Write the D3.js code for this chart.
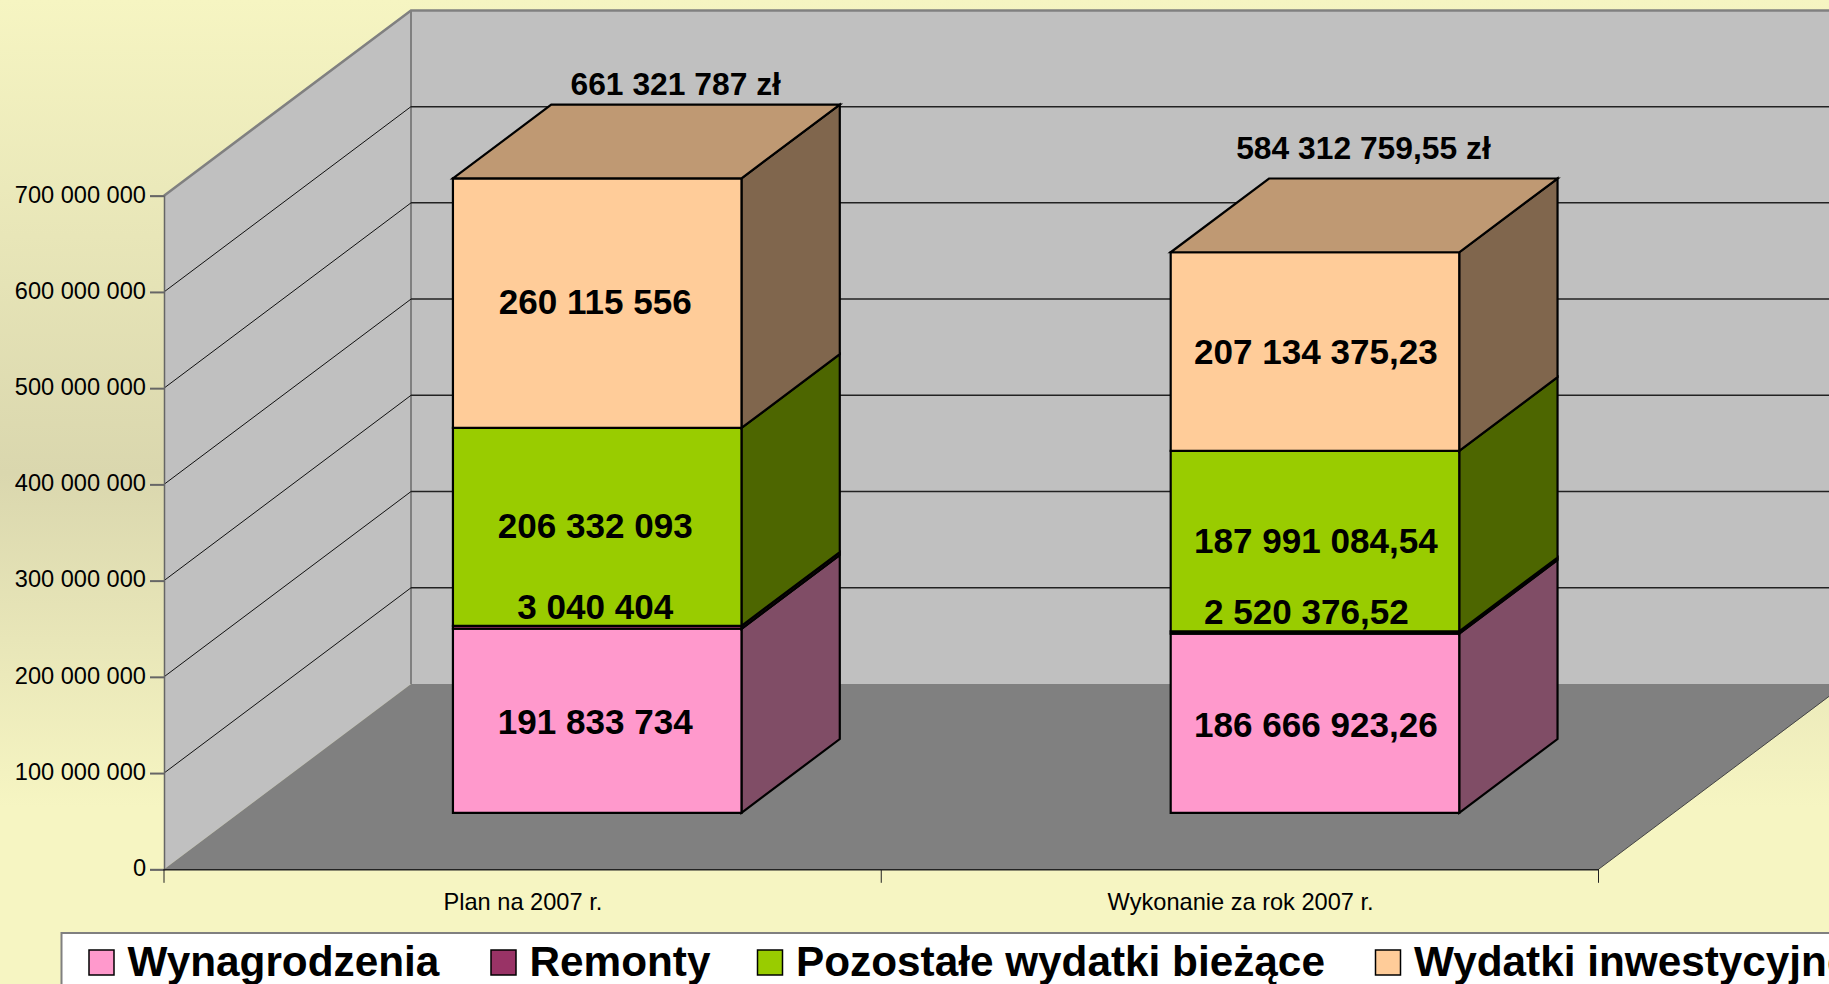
<!DOCTYPE html>
<html>
    <head>
        <meta charset="utf-8">
        <title>Wydatki 2007</title>
        <script src="https://d3js.org/d3.v7.min.js"></script>
        <style>
            html, body {
                margin: 0;
                padding: 0;
                overflow: hidden;
            }
            svg {
                display: block;
                font-family: "Liberation Sans", Arial, sans-serif;
            }
            .axis text {
                fill: #000;
            }
        </style>
    </head>
    <body>
        <svg id="chart" width="1829" height="984"></svg>
        <script>
            const categories = ['Plan na 2007 r.', 'Wykonanie za rok 2007 r.'];
            const seriesNames = ['Wynagrodzenia', 'Remonty', 'Pozostałe wydatki bieżące', 'Wydatki inwestycyjne'];
            const wynagrodzenia = [191833734, 186666923.26];
            const remonty = [3040404, 2520376.52];
            const pozostale = [206332093, 187991084.54];
            const inwestycyjne = [260115556, 207134375.23];
            const totals = [661321787, 584312759.55];
            const yTicks = [0, 100000000, 200000000, 300000000, 400000000, 500000000, 600000000, 700000000];

            const frontColors = ['#FF99CC', '#993366', '#99CC00', '#FFCC99'];
            const sideColors = ['#804D66', '#4D1A33', '#4D6600', '#80664D'];
            const topColor = '#BF9973';

            // projection of the 3D box: depth 0 is the front edge, 1 the back wall
            const depthX = 247;
            const depthY = 185.3;
            const barFront = 0.305;
            const barBack = 0.703;
            const pt = (x, y, d) => [x + d * depthX, y - d * depthY];
            const poly = pts => 'M' + pts.map(p => p.join(',')).join('L') + 'Z';

            const left = 164;
            const right = 1598.5;
            const floorY = 869.3;

            const svg = d3.select('#chart');

            const locale = d3.formatLocale({decimal: ',', thousands: ' ', grouping: [3], currency: ['', '']});
            const fmtInt = locale.format(',d');
            const fmtDec = locale.format(',.2f');
            const fmt = v => Number.isInteger(v) ? fmtInt(v) : fmtDec(v);

            const x = d3.scaleBand()
                .domain(categories)
                .range([left - 1, right])
                .paddingInner(0.598)
                .paddingOuter(0.299);
            const y = d3.scaleLinear().domain([0, 700000000]).range([floorY, 195.7]);
            // bars come out a little shorter than the axis in the original
            const yBar = d3.scaleLinear().domain([0, 700000000]).range([floorY, 197.8]);

            // background
            const grad = svg.append('defs').append('linearGradient')
                .attr('id', 'bg')
                .attr('x1', 0).attr('y1', 0).attr('x2', 0).attr('y2', 1);
            grad.append('stop').attr('offset', '0%').attr('stop-color', '#F6F5C2');
            grad.append('stop').attr('offset', '48%').attr('stop-color', '#DAD7AE');
            grad.append('stop').attr('offset', '82%').attr('stop-color', '#F6F5C2');
            grad.append('stop').attr('offset', '100%').attr('stop-color', '#F6F5C2');
            svg.append('rect').attr('width', 1829).attr('height', 984).attr('fill', 'url(#bg)');

            // walls and floor
            const wallTop = y(700000000);
            const walls = svg.append('g');
            walls.append('path')
                .attr('d', poly([pt(left, floorY, 1), pt(left, wallTop, 1), pt(right, wallTop, 1), pt(right, floorY, 1)]))
                .attr('fill', '#C0C0C0');
            walls.append('path')
                .attr('d', poly([[left, floorY], [left, wallTop], pt(left, wallTop, 1), pt(left, floorY, 1)]))
                .attr('fill', '#C0C0C0');
            walls.append('path')
                .attr('d', poly([[left, floorY], [right, floorY], pt(right, floorY, 1), pt(left, floorY, 1)]))
                .attr('fill', '#808080');

            // gridlines
            const grid = svg.append('g');
            grid.selectAll('path.side')
                .data(yTicks.slice(1, -1))
                .join('path')
                .attr('class', 'side')
                .attr('d', d => d3.line()([[left, y(d)], pt(left, y(d), 1)]))
                .attr('fill', 'none')
                .attr('stroke', '#111')
                .attr('stroke-width', 1);
            grid.selectAll('path.back')
                .data(yTicks.slice(1, -1))
                .join('path')
                .attr('class', 'back')
                .attr('d', d => d3.line()([pt(left, y(d), 1), pt(right, y(d), 1)]))
                .attr('fill', 'none')
                .attr('stroke', '#222')
                .attr('stroke-width', 1.5);

            // wall edges
            const edges = d3.line()([[left, wallTop], pt(left, wallTop, 1), pt(right, wallTop, 1)]);
            walls.append('path').attr('d', edges).attr('fill', 'none').attr('stroke', '#808080').attr('stroke-width', 2.5);
            walls.append('path')
                .attr('d', d3.line()([pt(left, wallTop, 1), pt(left, floorY, 1)]))
                .attr('fill', 'none').attr('stroke', '#808080').attr('stroke-width', 2);
            walls.append('path')
                .attr('d', d3.line()([[right, floorY], pt(right, floorY, 1)]))
                .attr('fill', 'none').attr('stroke', '#444').attr('stroke-width', 1);

            // axes
            const yAxis = svg.append('g')
                .attr('class', 'axis')
                .attr('transform', `translate(${left},0)`)
                .call(d3.axisLeft(y).tickValues(yTicks).tickFormat(fmtInt).tickSize(14).tickPadding(4));
            yAxis.selectAll('text').attr('font-size', 23.6).attr('font-family', 'inherit').attr('dy', '0.27em');
            yAxis.selectAll('.tick line').attr('stroke', '#666').attr('stroke-width', 2);
            yAxis.select('.domain').attr('stroke', '#666').attr('stroke-width', 1.5);

            const xAxis = svg.append('g')
                .attr('class', 'axis')
                .attr('transform', `translate(0,${floorY})`)
                .call(d3.axisBottom(x).tickSize(0).tickPadding(24));
            xAxis.select('.domain').attr('stroke', '#222').attr('stroke-width', 1.5);
            xAxis.selectAll('text').attr('font-size', 23.6).attr('font-family', 'inherit').attr('dx', 1);
            xAxis.selectAll('line.sep')
                .data([0, 1, 2])
                .join('line')
                .attr('class', 'sep')
                .attr('x1', i => left + i * (right - left) / 2)
                .attr('x2', i => left + i * (right - left) / 2)
                .attr('y2', 13.5)
                .attr('stroke', '#222')
                .attr('stroke-width', 1);

            // stacked bars
            const rows = categories.map((c, i) => ({
                category: c,
                [seriesNames[0]]: wynagrodzenia[i],
                [seriesNames[1]]: remonty[i],
                [seriesNames[2]]: pozostale[i],
                [seriesNames[3]]: inwestycyjne[i]
            }));
            const stacked = d3.stack().keys(seriesNames)(rows);

            const bars = svg.append('g')
                .attr('stroke', '#000')
                .attr('stroke-width', 2.2)
                .attr('stroke-linejoin', 'miter');

            stacked.forEach((layer, s) => {
                layer.forEach(seg => {
                    const x0 = x(seg.data.category);
                    const x1 = x0 + x.bandwidth();
                    const y0 = yBar(seg[0]);
                    const y1 = yBar(seg[1]);
                    bars.append('path')
                        .attr('d', poly([pt(x1, y0, barFront), pt(x1, y0, barBack), pt(x1, y1, barBack), pt(x1, y1, barFront)]))
                        .attr('fill', sideColors[s]);
                    bars.append('path')
                        .attr('d', poly([pt(x0, y0, barFront), pt(x1, y0, barFront), pt(x1, y1, barFront), pt(x0, y1, barFront)]))
                        .attr('fill', frontColors[s]);
                    if (s === stacked.length - 1) {
                        bars.append('path')
                            .attr('d', poly([pt(x0, y1, barFront), pt(x1, y1, barFront), pt(x1, y1, barBack), pt(x0, y1, barBack)]))
                            .attr('fill', topColor);
                    }
                });
            });

            // value labels, the Remonty ones were dragged by hand in the original
            const labels = svg.append('g')
                .attr('font-size', 35.1)
                .attr('font-weight', 'bold')
                .attr('text-anchor', 'middle');
            const seriesValues = [wynagrodzenia, remonty, pozostale, inwestycyjne];
            const barDx = [-2, 1];
            const nudges = [[[0, 1], [0, 2]], [[0, -20], [-9.5, -21]], [[0, -1], [0, 0]], [[0, -1], [0, 0]]];
            stacked.forEach((layer, s) => {
                layer.forEach((seg, i) => {
                    const cx = x(seg.data.category) + x.bandwidth() / 2;
                    const [px, py] = pt(cx, yBar((seg[0] + seg[1]) / 2), barFront);
                    labels.append('text')
                        .attr('x', px + barDx[i] + nudges[s][i][0])
                        .attr('y', py + 12 + nudges[s][i][1])
                        .text(fmt(seriesValues[s][i]));
                });
            });

            // totals above the bars
            const totalOffsets = [[78.5, -10], [48.5, -20]];
            svg.append('g')
                .attr('font-size', 31.8)
                .attr('font-weight', 'bold')
                .attr('text-anchor', 'middle')
                .selectAll('text')
                .data(totals)
                .join('text')
                .attr('x', (d, i) => pt(x(categories[i]) + x.bandwidth() / 2, 0, barFront)[0] + totalOffsets[i][0])
                .attr('y', (d, i) => pt(0, yBar(d), barBack)[1] + totalOffsets[i][1])
                .text(d => fmt(d) + ' zł');

            // legend
            const legend = svg.append('g');
            legend.append('rect')
                .attr('x', 61.5).attr('y', 933)
                .attr('width', 1900).attr('height', 100)
                .attr('fill', '#FFF')
                .attr('stroke', '#808080')
                .attr('stroke-width', 2);
            const legendX = [89, 491, 757.5, 1375.5];
            const item = legend.selectAll('g')
                .data(seriesNames)
                .join('g')
                .attr('transform', (d, i) => `translate(${legendX[i]},950)`);
            item.append('rect')
                .attr('width', 25).attr('height', 25)
                .attr('fill', (d, i) => frontColors[i])
                .attr('stroke', '#000')
                .attr('stroke-width', 1.5);
            item.append('text')
                .attr('x', 38.5)
                .attr('y', 26)
                .attr('font-size', 42.3)
                .attr('font-weight', 'bold')
                .text(d => d);
        </script>
    </body>
</html>
